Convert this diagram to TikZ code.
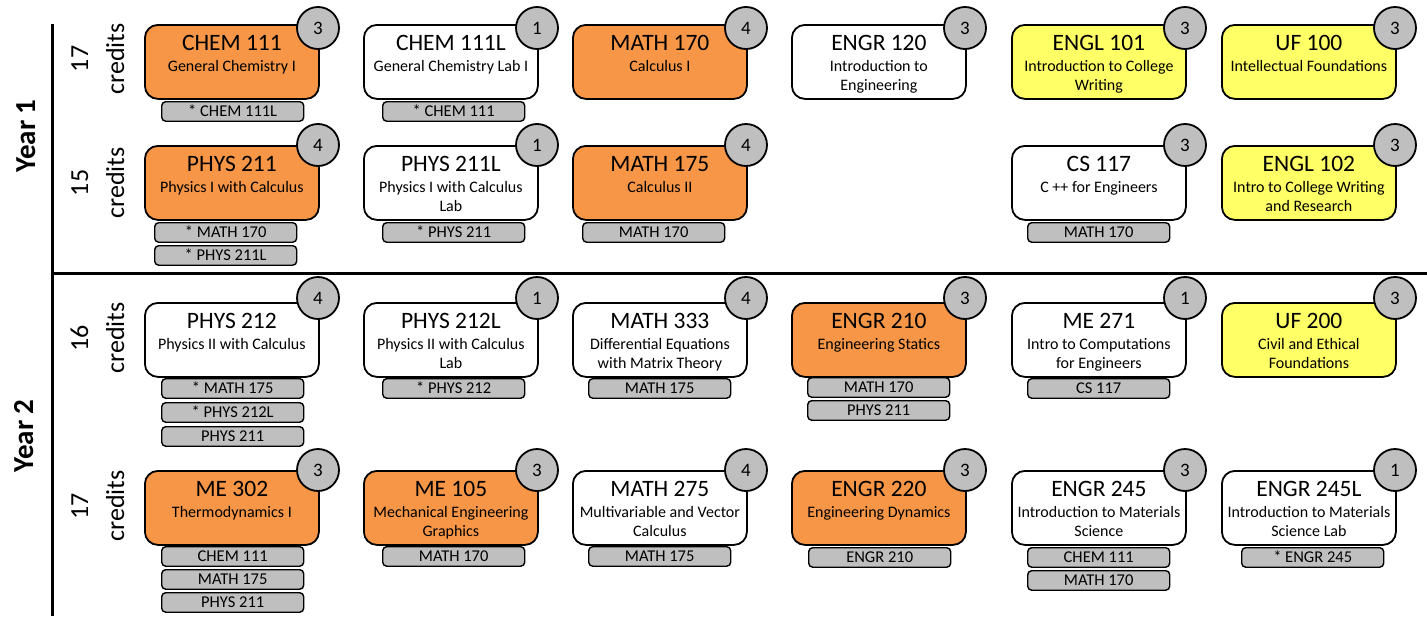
\documentclass[tikz,border=0pt]{standalone}
\usepackage{fontspec}
\setmainfont{Carlito}
\usetikzlibrary{calc}
\definecolor{corange}{HTML}{F79646}
\definecolor{cyellow}{HTML}{FFFF66}
\definecolor{cgray}{HTML}{BFBFBF}
\tikzset{
  coursebox/.style={draw=black, line width=1.8pt, rounded corners=13pt, minimum width=174pt, minimum height=74pt, inner sep=0pt, anchor=north west},
  codetext/.style={font=\fontsize{23.5}{28}\selectfont, anchor=base, inner sep=0pt},
  desctext/.style={font=\fontsize{16}{19}\selectfont, anchor=north, align=center, inner sep=0pt},
  creditnum/.style={circle, draw=black, line width=1.8pt, fill=cgray, minimum size=42pt, inner sep=0pt, font=\fontsize{19}{22}\selectfont},
  prebox/.style={draw=black, line width=1.4pt, rounded corners=4pt, fill=cgray, minimum width=142pt, minimum height=19.5pt, inner sep=0pt, anchor=north west, font=\fontsize{16.5}{19}\selectfont, text height=10.6pt, text depth=0pt},
  credlabel/.style={rotate=90, anchor=base, inner sep=0pt, font=\fontsize{26}{30}\selectfont},
  yearlabel/.style={rotate=90, anchor=base, inner sep=0pt, font=\fontsize{29}{34}\selectfont\bfseries},
  divider/.style={line width=3pt, draw=black}
}
% #1 name, #2 left, #3 top, #4 fill, #5 code, #6 description, #7 credits, #8 circle centre y
\newcommand\crs[8]{%
  \node[coursebox, fill=#4] (#1) at (#2,#3) {};
  \node[codetext] (#1-code) at ([yshift=-26pt]#1.north) {#5};
  \node[desctext] (#1-desc) at ([yshift=-34.2pt]#1.north) {\strut #6};
  \node[creditnum] (#1-cr) at ({#2+174},#8) {#7};
}
% #1 name, #2 left, #3 top, #4 text
\newcommand\prq[4]{%
  \node[prebox] (#1) at (#2,#3) {#4};
}
\begin{document}
\begin{tikzpicture}[x=1pt,y=-1pt]
\useasboundingbox (0,0) rectangle (1427,616);

% dividers
\coordinate (vtop) at (52,24);
\coordinate (vbot) at (52,616);
\coordinate (hleft) at (52,273);
\coordinate (hright) at (1427,273);
\draw[divider] (vtop) -- (vbot);
\draw[divider] (hleft) -- (hright);

% year labels
\node[yearlabel] (year1) at (35,136) {Year 1};
\node[yearlabel] (year2) at (33,436) {Year 2};

% credit labels
\node[credlabel] (r1a) at (88,59) {17};
\node[credlabel] (r1b) at (124,59) {credits};
\node[credlabel] (r2a) at (88,183) {15};
\node[credlabel] (r2b) at (124,183) {credits};
\node[credlabel] (r3a) at (88,338) {16};
\node[credlabel] (r3b) at (124,338) {credits};
\node[credlabel] (r4a) at (88,506) {17};
\node[credlabel] (r4b) at (124,506) {credits};

% Year 1, row 1
\crs{chem111}{144}{24}{corange}{CHEM 111}{General Chemistry I}{3}{28}
\crs{chem111L}{363}{24}{white}{CHEM 111L}{General Chemistry Lab I}{1}{28}
\crs{math170}{572}{24}{corange}{MATH 170}{Calculus I}{4}{28}
\crs{engr120}{791}{24}{white}{ENGR 120}{Introduction to\\Engineering}{3}{28}
\crs{engl101}{1011}{24}{cyellow}{ENGL 101}{Introduction to College\\Writing}{3}{28}
\crs{uf100}{1221}{24}{cyellow}{UF 100}{Intellectual Foundations}{3}{28}
\prq{p-chem111-a}{161}{101}{* CHEM 111L}
\prq{p-chem111L-a}{382}{101}{* CHEM 111}

% Year 1, row 2
\crs{phys211}{144}{145}{corange}{PHYS 211}{Physics I with Calculus}{4}{145}
\crs{phys211L}{363}{145}{white}{PHYS 211L}{Physics I with Calculus\\Lab}{1}{145}
\crs{math175}{572}{145}{corange}{MATH 175}{Calculus II}{4}{145}
\crs{cs117}{1011}{145}{white}{CS 117}{C ++ for Engineers}{3}{145}
\crs{engl102}{1221}{145}{cyellow}{ENGL 102}{Intro to College Writing\\and Research}{3}{145}
\prq{p-phys211-a}{154}{222}{* MATH 170}
\prq{p-phys211-b}{154}{245}{* PHYS 211L}
\prq{p-phys211L-a}{382}{222}{* PHYS 211}
\prq{p-math175-a}{582}{222}{MATH 170}
\prq{p-cs117-a}{1027}{222}{MATH 170}

% Year 2, row 1
\crs{phys212}{144}{302}{white}{PHYS 212}{Physics II with Calculus}{4}{298}
\crs{phys212L}{363}{302}{white}{PHYS 212L}{Physics II with Calculus\\Lab}{1}{298}
\crs{math333}{572}{302}{white}{MATH 333}{Differential Equations\\with Matrix Theory}{4}{298}
\crs{engr210}{791}{302}{corange}{ENGR 210}{Engineering Statics}{3}{298}
\crs{me271}{1011}{302}{white}{ME 271}{Intro to Computations\\for Engineers}{1}{298}
\crs{uf200}{1221}{302}{cyellow}{UF 200}{Civil and Ethical\\Foundations}{3}{298}
\prq{p-phys212-a}{161}{378}{* MATH 175}
\prq{p-phys212-b}{161}{402}{* PHYS 212L}
\prq{p-phys212-c}{161}{426}{PHYS 211}
\prq{p-phys212L-a}{382}{378}{* PHYS 212}
\prq{p-math333-a}{588}{378}{MATH 175}
\prq{p-engr210-a}{807}{377}{MATH 170}
\prq{p-engr210-b}{807}{400}{PHYS 211}
\prq{p-me271-a}{1027}{378}{CS 117}

% Year 2, row 2
\crs{me302}{144}{470}{corange}{ME 302}{Thermodynamics I}{3}{470}
\crs{me105}{363}{470}{corange}{ME 105}{Mechanical Engineering\\Graphics}{3}{470}
\crs{math275}{572}{470}{white}{MATH 275}{Multivariable and Vector\\Calculus}{4}{470}
\crs{engr220}{791}{470}{corange}{ENGR 220}{Engineering Dynamics}{3}{470}
\crs{engr245}{1011}{470}{white}{ENGR 245}{Introduction to Materials\\Science}{3}{470}
\crs{engr245L}{1221}{470}{white}{ENGR 245L}{Introduction to Materials\\Science Lab}{1}{470}
\prq{p-me302-a}{161}{546}{CHEM 111}
\prq{p-me302-b}{161}{569}{MATH 175}
\prq{p-me302-c}{161}{592}{PHYS 211}
\prq{p-me105-a}{382}{546}{MATH 170}
\prq{p-math275-a}{588}{546}{MATH 175}
\prq{p-engr220-a}{808}{547}{ENGR 210}
\prq{p-engr245-a}{1027}{547}{CHEM 111}
\prq{p-engr245-b}{1027}{570}{MATH 170}
\prq{p-engr245L-a}{1241}{547}{* ENGR 245}
\end{tikzpicture}
\end{document}
